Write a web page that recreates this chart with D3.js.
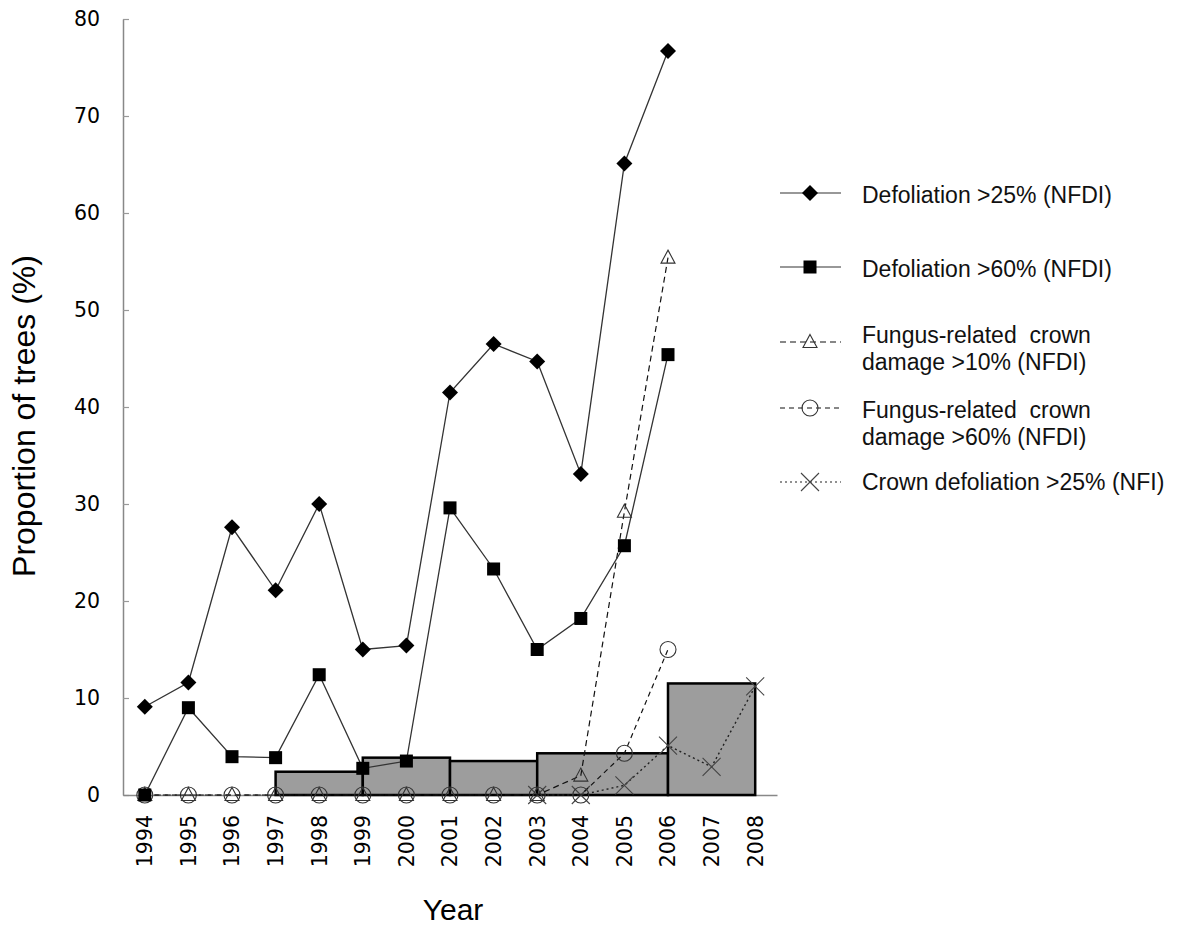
<!DOCTYPE html>
<html>
<head>
<meta charset="utf-8">
<script src="https://cdn.jsdelivr.net/npm/d3@7"></script>
<style>
  body { margin: 0; background: #fff; }
  svg { display: block; }
</style>
</head>
<body>
<svg id="chart" width="1179" height="927"></svg>
<script>
// tick labels / categories
const years = ["1994","1995","1996","1997","1998","1999","2000","2001","2002","2003","2004","2005","2006","2007","2008"];
const yTicks = [0, 10, 20, 30, 40, 50, 60, 70, 80];

// NFDI series, 1994-2006
const nfdiYears = years.slice(0, 13);
const defol25 = [9.1, 11.6, 27.6, 21.1, 30.0, 15.0, 15.4, 41.5, 46.5, 44.7, 33.1, 65.1, 76.7];
const defol60 = [0, 9.0, 3.95, 3.85, 12.4, 2.75, 3.5, 29.6, 23.3, 15.0, 18.2, 25.7, 45.4];
const fungus10 = [0, 0, 0, 0, 0, 0, 0, 0, 0, 0, 2.0, 29.2, 55.4];
const fungus60 = [0, 0, 0, 0, 0, 0, 0, 0, 0, 0, 0, 4.3, 15.0];

// NFI series
const nfiYears = ["2003","2004","2005","2006","2007","2008"];
const nfiDefol25 = [0, 0, 1.0, 5.1, 2.9, 11.2];

// grey step bars (period start, period end, value)
const barStart = ["1997","1999","2001","2003","2006"];
const barEnd   = ["1999","2001","2003","2006","2008"];
const barValue = [2.4, 3.85, 3.5, 4.3, 11.5];

const legendLabels = [
  ["Defoliation >25% (NFDI)"],
  ["Defoliation >60% (NFDI)"],
  ["Fungus-related  crown", "damage >10% (NFDI)"],
  ["Fungus-related  crown", "damage >60% (NFDI)"],
  ["Crown defoliation >25% (NFI)"]
];

const svg = d3.select("#chart");
const plotLeft = 123, plotRight = 777, plotTop = 19, plotBottom = 795;

const x = d3.scaleBand().domain(years).range([plotLeft, plotRight]).padding(0);
const cx = d => x(d) + x.bandwidth() / 2;
const y = d3.scaleLinear().domain([0, 80]).range([plotBottom, plotTop]);

// axes
const yAxis = svg.append("g")
    .attr("transform", `translate(${plotLeft},0)`)
    .call(d3.axisLeft(y).tickValues(yTicks).tickSizeInner(-6).tickSizeOuter(0).tickPadding(23));
yAxis.select(".domain").attr("stroke", "#888").attr("stroke-width", 1.5);
yAxis.selectAll(".tick line").attr("stroke", "#999").attr("stroke-width", 1.2);
yAxis.selectAll(".tick text")
    .style("font-family", "'DejaVu Sans', Verdana, sans-serif")
    .style("font-size", "20.5px")
    .attr("fill", "#000");

const xAxis = svg.append("g")
    .attr("transform", `translate(0,${plotBottom})`)
    .call(d3.axisBottom(x).tickSize(0).tickSizeOuter(0));
xAxis.select(".domain").attr("stroke", "#888").attr("stroke-width", 1.5);
xAxis.selectAll(".tick text")
    .attr("transform", "rotate(-90)")
    .attr("x", -20)
    .attr("y", 0)
    .attr("dy", "0.36em")
    .style("text-anchor", "end")
    .style("font-family", "'DejaVu Sans', Verdana, sans-serif")
    .style("font-size", "20.5px")
    .attr("fill", "#000");

// bars
svg.append("g").selectAll("rect")
    .data(barValue)
    .enter().append("rect")
    .attr("x", (d, i) => cx(barStart[i]))
    .attr("y", d => y(d))
    .attr("width", (d, i) => cx(barEnd[i]) - cx(barStart[i]))
    .attr("height", d => y(0) - y(d))
    .attr("fill", "#9d9d9d")
    .attr("stroke", "#000")
    .attr("stroke-width", 2.5);

// marker shapes
function marker(g, type) {
  if (type === "diamond") {
    g.append("path").attr("d", "M0,-8L8,0L0,8L-8,0Z").attr("fill", "#000");
  } else if (type === "square") {
    g.append("rect").attr("x", -6.5).attr("y", -6.5).attr("width", 13).attr("height", 13).attr("fill", "#000");
  } else if (type === "triangle") {
    g.append("path").attr("d", "M0,-7.5L7,5.5L-7,5.5Z").attr("fill", "none").attr("stroke", "#333").attr("stroke-width", 1.1);
  } else if (type === "circle") {
    g.append("circle").attr("r", 8).attr("fill", "none").attr("stroke", "#333").attr("stroke-width", 1.1);
  } else if (type === "cross") {
    g.append("path").attr("d", "M-9,-9L9,9M-9,9L9,-9").attr("stroke", "#444").attr("stroke-width", 1.1);
  }
}

const series = [
  { yrs: nfiYears, vals: nfiDefol25, type: "cross", dash: "2,3", color: "#222", width: 1.4 },
  { yrs: nfdiYears, vals: fungus60, type: "circle", dash: "5,4", color: "#111", width: 1.2 },
  { yrs: nfdiYears, vals: fungus10, type: "triangle", dash: "6,4", color: "#111", width: 1.2 },
  { yrs: nfdiYears, vals: defol60, type: "square", dash: null, color: "#333", width: 1.3 },
  { yrs: nfdiYears, vals: defol25, type: "diamond", dash: null, color: "#333", width: 1.3 }
];

const line = d3.line().x(d => cx(d[0])).y(d => y(d[1]));

series.forEach(s => {
  const pts = s.yrs.map((yr, i) => [yr, s.vals[i]]);
  svg.append("path")
      .datum(pts)
      .attr("d", line)
      .attr("fill", "none")
      .attr("stroke", s.color)
      .attr("stroke-width", s.width)
      .attr("stroke-dasharray", s.dash);
  svg.append("g").selectAll("g")
      .data(pts)
      .enter().append("g")
      .attr("transform", d => `translate(${cx(d[0])},${y(d[1])})`)
      .each(function() { marker(d3.select(this), s.type); });
});

// legend
const legendOrder = [
  { type: "diamond", dash: null, color: "#333", my: 193, ty: 203 },
  { type: "square", dash: null, color: "#333", my: 267, ty: 277 },
  { type: "triangle", dash: "6,4", color: "#111", my: 342, ty: 343 },
  { type: "circle", dash: "5,4", color: "#111", my: 408, ty: 418 },
  { type: "cross", dash: "2,3", color: "#222", my: 482, ty: 490 }
];

const legend = svg.append("g");
legendOrder.forEach((l, i) => {
  legend.append("line")
      .attr("x1", 780).attr("x2", 841)
      .attr("y1", l.my).attr("y2", l.my)
      .attr("stroke", l.color)
      .attr("stroke-width", 1.2)
      .attr("stroke-dasharray", l.dash);
  const g = legend.append("g").attr("transform", `translate(810,${l.my})`);
  marker(g, l.type);
  legendLabels[i].forEach((t, j) => {
    legend.append("text")
        .attr("x", 862)
        .attr("y", l.ty + j * 27)
        .style("white-space", "pre")
        .style("font-family", "'Liberation Sans', Arial, sans-serif")
        .style("font-size", "23px")
        .attr("fill", "#111")
        .text(t);
  });
});

// axis titles
svg.append("text")
    .attr("transform", "translate(35,416) rotate(-90)")
    .style("text-anchor", "middle")
    .style("font-family", "'Liberation Sans', Arial, sans-serif")
    .style("font-size", "32px")
    .attr("fill", "#000")
    .text("Proportion of trees (%)");

svg.append("text")
    .attr("x", 453)
    .attr("y", 920)
    .style("text-anchor", "middle")
    .style("font-family", "'Liberation Sans', Arial, sans-serif")
    .style("font-size", "30px")
    .attr("fill", "#000")
    .text("Year");
</script>
</body>
</html>
